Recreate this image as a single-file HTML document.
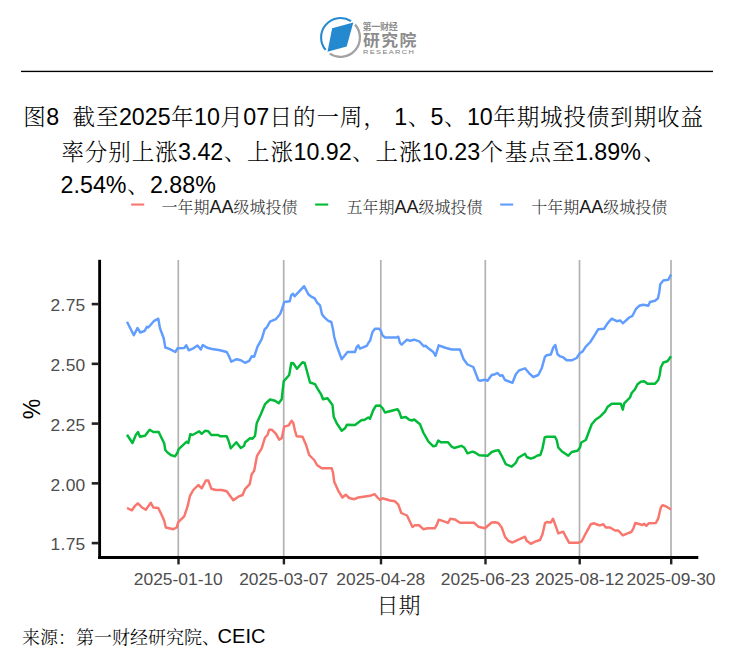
<!DOCTYPE html>
<html lang="zh-CN"><head><meta charset="utf-8"><title>图8 城投债到期收益率</title>
<style>
html,body{margin:0;padding:0;background:#fff;}
body{width:750px;height:661px;position:relative;overflow:hidden;font-family:"Liberation Sans","Noto Serif CJK SC",sans-serif;color:#000;}
.g{position:absolute;left:0;top:0;}
.t{position:absolute;white-space:pre;line-height:1;}
.cj{font-family:"Noto Serif CJK SC","Liberation Serif",serif;}
.ttl{--ls:0px;font-size:23.25px;letter-spacing:var(--ls);}
.ttl .cj{font-size:22.5px;font-weight:300;letter-spacing:calc(0.9px + var(--ls));margin-left:0.45px;margin-right:-0.45px;}
.lg{font-size:18px;color:#1a1a1a;}
.lg .cj{font-size:16px;font-weight:300;color:#2b2b2b;}
.xl{font-size:17.4px;color:#4d4d4d;text-align:center;width:120px;}
.yl{font-size:17.4px;color:#4d4d4d;text-align:right;width:60px;letter-spacing:0.3px;}
.lgs{font-family:"Noto Sans CJK SC","Liberation Sans",sans-serif;font-weight:bold;color:#8c8c8c;}
</style></head><body>
<svg class="g" width="750" height="661" viewBox="0 0 750 661">
<rect x="21" y="70.75" width="692" height="1.35" fill="#000"/>
<g id="logo"><path d="M325.64,49.92 A19.4,19.4 0 0 1 351.0,21.14" fill="none" stroke="#2489cf" stroke-width="2.1"/><path d="M355.05,24.62 A19.4,19.4 0 0 1 329.76,53.61" fill="none" stroke="#a2a2a2" stroke-width="2.3"/><polygon points="332.15,28.3 353.3,22.6 346.7,46.4 327.5,51.7" fill="#2489cf"/></g>
<rect x="177.45" y="260" width="1.7" height="296.5" fill="#b2b2b2"/>
<rect x="282.85" y="260" width="1.7" height="296.5" fill="#b2b2b2"/>
<rect x="379.95" y="260" width="1.7" height="296.5" fill="#b2b2b2"/>
<rect x="484.45" y="260" width="1.7" height="296.5" fill="#b2b2b2"/>
<rect x="578.65" y="260" width="1.7" height="296.5" fill="#b2b2b2"/>
<rect x="670.15" y="260" width="1.7" height="296.5" fill="#b2b2b2"/>
<path d="M127,508 L132,510.3 L135,505.8 L137.8,503.3 L141.7,507.2 L145.8,509.7 L149.2,505 L150.8,502.8 L153.3,507.5 L158.3,508 L161.7,515 L164.2,520.8 L165.8,527.5 L169.2,528.3 L173.3,529.2 L176.7,527.5 L178.3,522.2 L184.2,516.3 L187.5,506.7 L190,495.8 L193.3,490 L198.3,485 L201.7,488.3 L204.2,483.7 L205.8,480.5 L208.3,480.5 L211.3,488.7 L215.8,490 L221.7,490 L226.7,491.3 L230,495.8 L233.3,500.3 L238.3,496.7 L242.5,495 L245,489.2 L249.7,484.2 L251.7,474.2 L254.2,470.8 L257,455.8 L261.7,448.3 L265,437.5 L267.5,435 L269.2,429.7 L271.7,429.7 L275.8,433.7 L279.2,439.7 L281.7,438.3 L284.2,426.7 L288.7,425.3 L291.7,420.8 L293.3,423 L295,430.8 L296.7,436.3 L302.5,436.7 L305.8,444.2 L309.2,455 L314.2,460 L317,465 L321.7,468.3 L331.7,468.3 L333,472.5 L334.2,481.7 L338.3,490.8 L342.5,497.5 L345.8,494.7 L349.2,498 L354.2,499.2 L358.3,497.5 L370,495.8 L374.7,494.2 L377.5,497.5 L380,500 L382.5,498.3 L390,500.5 L395,501.3 L398.3,504.7 L401.3,513 L407,515.5 L412.5,527 L415,525.3 L419.2,525.3 L423.3,529.2 L427.5,528.3 L434.7,528.3 L436.7,525 L438.7,519.7 L443.3,521.2 L448,522.8 L450.3,518.8 L455,519.5 L460,522.8 L470,522.8 L474.2,522.8 L478.3,526.7 L485,528.3 L491.7,522.5 L495,522.2 L498.3,523 L501.7,527.5 L505,536.7 L508.3,540.8 L512.5,542.5 L515.8,540.8 L525,536.7 L526.7,540.8 L530.8,543.8 L535,541.7 L540,540 L542.5,534.2 L545,523.3 L546.7,522 L550.8,522.5 L553,518.7 L555,524.2 L558.3,533.3 L563.3,531.7 L565.8,536.7 L569.2,542.8 L578.3,542.8 L581.7,541.3 L585.8,533.3 L590.8,524.2 L594.2,523.3 L598.3,525 L600,525.3 L603.3,524.2 L605.8,527.5 L610,527.5 L615,530.5 L618.3,530.5 L622.8,535.3 L627.5,533.3 L631.3,532 L633.3,528.7 L635.3,523 L642.5,525 L644.2,523.8 L646.3,525.8 L648.7,523.3 L655.8,523 L658.3,518.3 L660.8,507.5 L662.5,505.3 L665.8,506.2 L671,509.5" fill="none" stroke="#F8766D" stroke-width="2.45" stroke-linejoin="round" stroke-linecap="butt"/>
<path d="M127,434.7 L132.5,443 L135.8,435 L138,432 L140,436.7 L145,435.8 L147.5,432.5 L149.7,429.7 L153.3,432 L158.7,432 L161.7,438.3 L164.2,443.3 L165.3,450 L167.5,452.5 L170.8,455 L175,456.3 L177.5,452.5 L178.7,449.2 L186.7,441.7 L188.3,443 L190.3,434.2 L192.5,435 L199.2,431.3 L201.7,433.8 L205,430.8 L208.3,431.2 L211.3,435 L218.3,435 L220,436.2 L226.7,436.2 L228.3,440 L230.8,448.3 L236.3,442.2 L240.8,448 L244.2,445.8 L245,442.5 L250,438.3 L252.5,438.8 L255,435.8 L256.7,423.3 L260.8,414.2 L265,404.2 L270,399.5 L275,400.8 L278.7,403.3 L281.7,399.2 L283.7,381.3 L289.2,375 L291.3,363 L293.3,363.3 L297,368.7 L302.5,362.2 L304.7,363 L307.5,373.3 L310,382.5 L315,384.2 L318.3,390 L321.3,394.7 L323,399.2 L327.5,398.3 L332.5,405 L333.7,416.7 L336.7,423.3 L341.7,430.8 L345,428.3 L347,424.7 L355,425 L361.7,420 L364.2,420 L368.3,417.5 L370,418.7 L373.3,410 L375.8,405.8 L380,405.5 L382.5,408 L385,412.5 L397.5,409.2 L399.2,411.7 L401.3,417.8 L405.8,417 L409.2,419.7 L411.7,420.5 L414.2,419.5 L420,424.2 L423.3,432.5 L428.3,441.3 L433.3,446.3 L435.8,445.8 L438.3,440.5 L440.8,442.2 L448,442.2 L451.7,446.7 L454.2,448 L461.3,445.8 L464.2,447.5 L467.5,453.3 L472.5,451.7 L475,452.5 L479.2,455.3 L487.5,455.8 L491.7,452 L495,450.8 L498.7,450.3 L501.7,455.8 L505.8,464.2 L511.7,466.7 L515.8,462.8 L518.3,457.8 L525,453.8 L526.7,457 L530.8,458.7 L534.2,457.5 L537.5,455.5 L540.3,455 L542.5,448.3 L544.7,437.5 L546.7,436.7 L555,436.7 L556.7,440 L558.3,447.5 L561.7,451.2 L568.3,455.8 L571.7,452 L577.5,450.8 L580,447.5 L581.3,442.5 L585.8,440 L591.7,424.2 L595.8,419.5 L600,416.7 L605,411.7 L607.5,407 L611.7,403.7 L620.8,403.7 L622.8,409.7 L624.2,403.3 L630,397.5 L631.7,393 L635,389.2 L637.5,384.2 L640.8,381.7 L644.2,381.2 L647.5,383.7 L655,383.7 L658.3,380 L659.7,375 L660.8,367.5 L663.3,362.5 L667.5,361.3 L671,356.3" fill="none" stroke="#00BA38" stroke-width="2.45" stroke-linejoin="round" stroke-linecap="butt"/>
<path d="M127,321.7 L133.8,335.3 L137.5,328 L140.3,332.5 L144.7,330.8 L147,326.7 L148.3,327.5 L154.2,320.8 L158.3,318.7 L160,328.3 L163.7,338.3 L165.3,347.5 L170,349.2 L175.3,352 L177.5,348.3 L184.2,348 L186.3,345.3 L188.7,350.3 L193.3,348.3 L197.5,345.5 L200.8,349.5 L202.8,345 L206.7,347.5 L210.8,348.7 L220,350.3 L226.7,352 L229.2,356.7 L231.3,361.7 L236.7,359.2 L240.8,360.3 L245,362.8 L249.2,360.8 L251.7,356.3 L254.2,356.7 L257.5,346.7 L261.7,339.2 L264.7,329.2 L266.7,327.5 L270,321.7 L275.8,319.2 L280,314.2 L282,309.2 L284.2,302 L289.7,301.3 L291.3,295 L293,293.8 L294.7,296.2 L304.2,286.2 L308.3,294.2 L310.8,296.3 L314.7,298.3 L317,302.5 L320,305.3 L322,314.2 L324.2,317.2 L328.3,320.8 L331.3,322 L333,329.2 L334.2,336.7 L336.7,345.8 L341.7,359.2 L347.5,352 L355,352 L356.7,347 L358.3,345.3 L360,348.7 L366.7,345.8 L369.2,341.7 L370,340.8 L372.5,332 L375,328.8 L379.2,328.8 L380.8,330.8 L382.5,335.3 L385,337.5 L396.7,337.5 L398.3,336.7 L400,343 L401.7,344.7 L407,339.7 L410,340.8 L414.2,339.7 L419.2,341.3 L423.7,346.3 L425.8,345.8 L428.3,348.3 L433.3,352 L435.5,355.8 L438.7,345.3 L443.3,347 L447,348.3 L451.7,349.5 L460,349.5 L463.3,358.7 L467.5,364.5 L473.3,367 L478.3,380 L480,380.8 L485,379.7 L487.5,380.8 L491.7,375 L495,374.2 L497.5,373 L500,375.8 L502.5,375.3 L505,380 L512.5,382.8 L515.8,374.2 L519.2,370.3 L525,368.3 L529.2,373.3 L533.3,377 L538.3,375 L541.7,368.3 L545,356.7 L546.7,355.3 L550.8,354.5 L553.3,347.5 L555.3,345 L557.5,354.2 L560,356.3 L563,357.2 L566.7,360.3 L571.7,360.3 L576.7,358 L580,353 L582.5,351.7 L585.8,346.7 L590.3,342 L595,334.7 L598.3,329.2 L604.2,328.7 L607.5,323.3 L611.7,318.7 L616.7,321.2 L620.3,320.5 L622.8,323.3 L629.2,317.5 L632.5,315.8 L635.8,309.2 L639.2,305.8 L643.3,304.7 L648.3,305.8 L650,302 L655,300.8 L658,298.3 L659.2,292.5 L660.3,284.2 L663.3,280.5 L668.3,279.7 L671,274.5" fill="none" stroke="#619CFF" stroke-width="2.45" stroke-linejoin="round" stroke-linecap="butt"/>
<rect x="98.2" y="259.8" width="2.85" height="299.2" fill="#000"/>
<rect x="98.2" y="556" width="600.1" height="3" fill="#000"/>
<rect x="91.7" y="302.80" width="7" height="2.6" fill="#222"/>
<rect x="91.7" y="362.55" width="7" height="2.6" fill="#222"/>
<rect x="91.7" y="422.30" width="7" height="2.6" fill="#222"/>
<rect x="91.7" y="482.05" width="7" height="2.6" fill="#222"/>
<rect x="91.7" y="541.80" width="7" height="2.6" fill="#222"/>
<rect x="177.30" y="558.5" width="2.4" height="5.9" fill="#222"/>
<rect x="282.70" y="558.5" width="2.4" height="5.9" fill="#222"/>
<rect x="379.80" y="558.5" width="2.4" height="5.9" fill="#222"/>
<rect x="484.30" y="558.5" width="2.4" height="5.9" fill="#222"/>
<rect x="578.50" y="558.5" width="2.4" height="5.9" fill="#222"/>
<rect x="670.00" y="558.5" width="2.4" height="5.9" fill="#222"/>
<rect x="131.2" y="203.5" width="13" height="2.1" fill="#F8766D"/>
<rect x="315.2" y="203.5" width="13" height="2.1" fill="#00BA38"/>
<rect x="500.2" y="203.5" width="13" height="2.1" fill="#619CFF"/>
</svg>
<div class="t lgs" style="left:362.6px;top:21.8px;font-size:9px;letter-spacing:-0.3px;">第一财经</div>
<div class="t lgs" style="left:362.7px;top:31.6px;font-size:15.5px;letter-spacing:1.3px;transform-origin:0 0;transform:scaleX(1.09);">研究院</div>
<div class="t" style="left:363.2px;top:50.7px;font-size:4.6px;letter-spacing:0.85px;color:#7d7d7d;font-weight:normal;transform-origin:0 0;transform:scaleX(1.62);">RESEARCH</div>
<div class="t ttl" style="left:22.8px;top:104.3px;"><span class="cj">图</span>8  <span class="cj">截至</span>2025<span class="cj">年</span>10<span class="cj">月</span>07<span class="cj">日的一周，</span><span style="margin-left:1.6px"> </span>1<span class="cj">、</span>5<span class="cj">、</span>10<span class="cj">年期城投债到期收益</span></div>
<div class="t ttl" style="left:61px;top:139.2px;--ls:0px;"><span class="cj">率分别上涨</span>3.42<span class="cj">、上涨</span>10.92<span class="cj">、上涨</span>10.23<span class="cj">个</span><span style="margin-left:0.8px"><span class="cj">基</span></span><span style="margin-left:0.4px"><span class="cj">点至</span></span>1.89%<span style="margin-left:2px"><span class="cj">、</span></span></div>
<div class="t ttl" style="left:60.6px;top:172px;">2.54%<span class="cj">、</span>2.88%</div>
<div class="t lg" style="left:161.5px;top:198.3px;"><span class="cj">一年期</span>AA<span class="cj">级城投债</span></div>
<div class="t lg" style="left:346.5px;top:198.3px;"><span class="cj">五年期</span>AA<span class="cj">级城投债</span></div>
<div class="t lg" style="left:531.2px;top:198.3px;"><span class="cj">十年期</span>AA<span class="cj">级城投债</span></div>
<div class="t xl" style="left:118.3px;top:571.3px;">2025-01-10</div>
<div class="t xl" style="left:223.7px;top:571.3px;">2025-03-07</div>
<div class="t xl" style="left:320.8px;top:571.3px;">2025-04-28</div>
<div class="t xl" style="left:425.3px;top:571.3px;">2025-06-23</div>
<div class="t xl" style="left:519.5px;top:571.3px;">2025-08-12</div>
<div class="t xl" style="left:611.0px;top:571.3px;">2025-09-30</div>
<div class="t yl" style="left:25.6px;top:297.2px;">2.75</div>
<div class="t yl" style="left:25.6px;top:357.0px;">2.50</div>
<div class="t yl" style="left:25.6px;top:416.7px;">2.25</div>
<div class="t yl" style="left:25.6px;top:476.5px;">2.00</div>
<div class="t yl" style="left:25.6px;top:536.2px;">1.75</div>
<div class="t" style="left:19.5px;top:396.6px;font-size:23px;width:24px;height:24px;line-height:24px;transform:rotate(-90deg);transform-origin:50% 50%;text-align:center;">%</div>
<div class="t cj" style="left:376.6px;top:592.6px;font-size:22px;color:#111;font-weight:300;">日期</div>
<div class="t cj" style="left:22px;top:626.8px;font-size:18px;font-weight:300;">来源：第一财经研究院、</div>
<div class="t" style="left:217.6px;top:626.2px;font-size:20px;">CEIC</div>
</body></html>
